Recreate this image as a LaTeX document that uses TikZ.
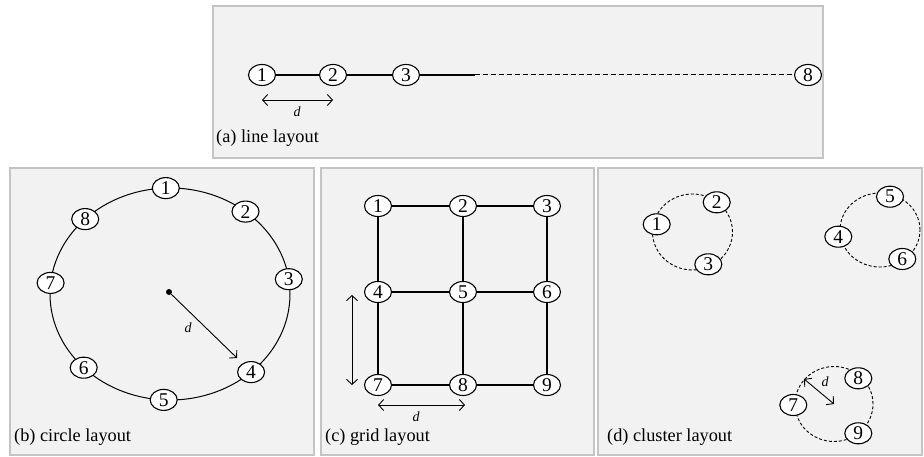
\documentclass[tikz,border=0pt]{standalone}
\usepackage{fontspec}
\setmainfont{Liberation Serif}
\usetikzlibrary{arrows.meta,shapes.geometric}
\definecolor{panelfill}{HTML}{F2F2F2}
\definecolor{panelline}{HTML}{C4C4C4}
\begin{document}
\begin{tikzpicture}[x=1pt,y=-1pt,
  panel/.style={draw=panelline, fill=panelfill, line width=1.3pt},
  vertex/.style={ellipse, draw, fill=white, line width=1.1pt, minimum width=27pt,
    minimum height=21pt, inner sep=0pt, font=\fontsize{19.5}{19.5}\selectfont},
  edge/.style={line width=1.8pt},
  dashline/.style={line width=1pt, dash pattern=on 5pt off 3pt},
  ring/.style={line width=1pt},
  dashring/.style={line width=0.9pt, dash pattern=on 3pt off 2pt},
  measure/.style={line width=0.9pt, {Straight Barb[length=5pt,width=11pt]}-{Straight Barb[length=5pt,width=11pt]}},
  pointer/.style={line width=0.9pt, -{Straight Barb[length=5pt,width=11pt]}},
  caption/.style={anchor=west, font=\fontsize{18.3}{18.3}\selectfont, inner sep=0pt},
  dlabel/.style={font=\itshape\fontsize{14}{14}\selectfont, inner sep=0pt}
]
\useasboundingbox (0,0) rectangle (924,457);

% panel frames
\path[panel] (213,6) rectangle (823,158);
\path[panel] (10,168) rectangle (314,455);
\path[panel] (321,168) rectangle (594,455);
\path[panel] (598,168) rectangle (922,455);

% (a) line layout
\coordinate (aend) at (475,75);
\draw[dashline] (aend) -- (808,75);
\draw[edge] (262,75) -- (aend);
\node[vertex] (a1) at (262,75) {1};
\node[vertex] (a2) at (333,75) {2};
\node[vertex] (a3) at (406,75) {3};
\node[vertex] (a8) at (808,75) {8};
\coordinate (am1) at (262,100);
\coordinate (am2) at (333,100);
\draw[measure] (am1) -- (am2);
\node[dlabel] (ad) at (297,112) {d};
\node[caption] (capa) at (216,138) {(a) line layout};

% (b) circle layout
\draw[ring] (170,294) ellipse [x radius=120pt, y radius=106pt];
\node[vertex] (b1) at (165.8,188.1) {1};
\node[vertex] (b2) at (245.5,211.6) {2};
\node[vertex] (b3) at (288.8,279.2) {3};
\node[vertex] (b4) at (251.1,372.1) {4};
\node[vertex] (b5) at (163.7,399.9) {5};
\node[vertex] (b6) at (83.7,367.7) {6};
\node[vertex] (b7) at (50.6,282.9) {7};
\node[vertex] (b8) at (85.2,219.1) {8};
\node[circle, fill, inner sep=0pt, minimum size=6pt] (bc) at (169,292) {};
\coordinate (btip) at (237,358);
\draw[pointer] (bc) -- (btip);
\node[dlabel] (bd) at (188,328) {d};
\node[caption] (capb) at (14,437) {(b) circle layout};

% (c) grid layout
\foreach \n/\x/\y in {1/378/206, 2/463/206, 3/547/206,
                      4/378/292, 5/463/292, 6/547/292,
                      7/378/385, 8/463/385, 9/547/385}
  \node[vertex] (c\n) at (\x,\y) {\n};
\draw[edge] (c1) -- (c2) (c2) -- (c3) (c4) -- (c5) (c5) -- (c6) (c7) -- (c8) (c8) -- (c9)
            (c1) -- (c4) (c4) -- (c7) (c2) -- (c5) (c5) -- (c8) (c3) -- (c6) (c6) -- (c9);
\coordinate (cv1) at (352,295);
\coordinate (cv2) at (352,385);
\draw[measure] (cv1) -- (cv2);
\coordinate (ch1) at (378,405);
\coordinate (ch2) at (465,405);
\draw[measure] (ch1) -- (ch2);
\node[dlabel] (cd) at (416,417) {d};
\node[caption] (capc) at (325,437) {(c) grid layout};

% (d) cluster layout
\draw[dashring] (692.5,232) ellipse [x radius=40pt, y radius=38pt];
\draw[dashring] (880,230) ellipse [x radius=40pt, y radius=37pt];
\draw[dashring] (834,404) ellipse [x radius=39pt, y radius=37.5pt];
\node[vertex] (d1) at (656.7,224.3) {1};
\node[vertex] (d2) at (716.7,202.3) {2};
\node[vertex] (d3) at (708.3,264.3) {3};
\node[vertex] (d4) at (838.3,236.7) {4};
\node[vertex] (d5) at (890,196.7) {5};
\node[vertex] (d6) at (902.3,259) {6};
\node[vertex] (d7) at (793.3,405) {7};
\node[vertex] (d8) at (858.3,378.3) {8};
\node[vertex] (d9) at (858.3,433.3) {9};
\coordinate (dr1) at (804,379);
\coordinate (dr2) at (834,404);
\draw[measure] (dr1) -- (dr2);
\node[dlabel] (dd) at (825,382) {d};
\node[caption] (capd) at (607,437) {(d) cluster layout};
\end{tikzpicture}
\end{document}
